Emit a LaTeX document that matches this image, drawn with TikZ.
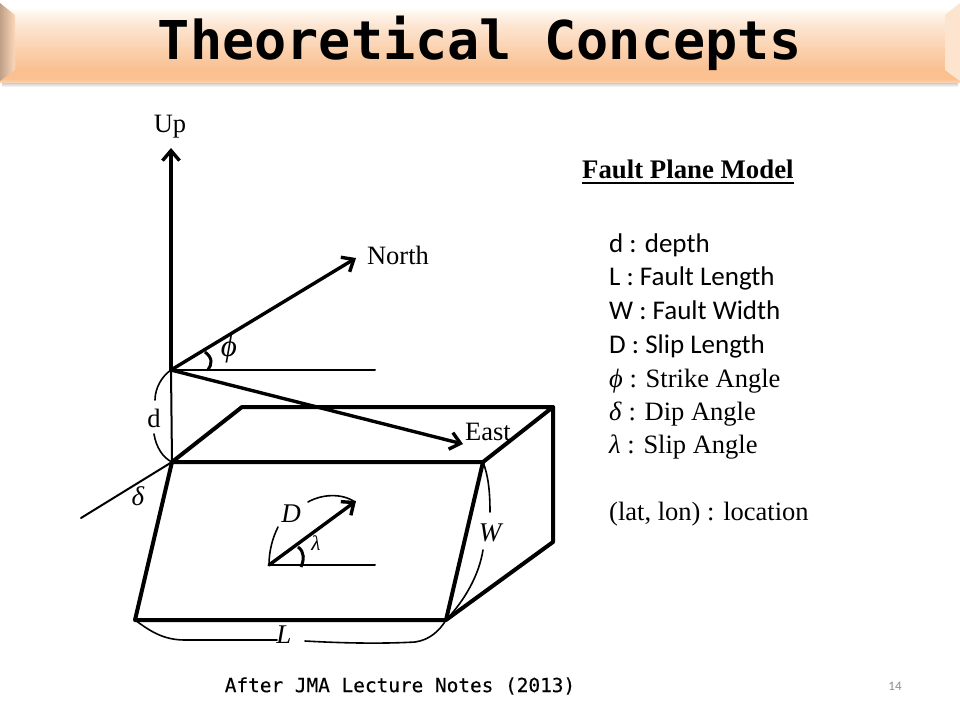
\documentclass[tikz,border=0pt]{standalone}
\usepackage{fontspec}
\setmainfont{Liberation Serif}
\newfontfamily\listfont{Carlito}
\newfontfamily\monofont{DejaVu Sans Mono}
\newfontfamily\footfont[FakeBold=0.35]{DejaVu Sans Mono}
\usetikzlibrary{arrows.meta}
\definecolor{hdrC}{HTML}{FAD2AC}
\definecolor{hdrB}{HTML}{FAC090}
\definecolor{hdrA}{HTML}{FCE4D0}
\definecolor{hdrT}{HTML}{FEF4EA}
\definecolor{bevelL}{HTML}{C0A088}
\definecolor{bevelLb}{HTML}{FBD8B8}
\definecolor{bevelR}{HTML}{FDE4CE}
\definecolor{pagenum}{HTML}{8C8C8C}
\pgfdeclareverticalshading{hdrshade}{100bp}{
 color(0bp)=(hdrC);
 color(25bp)=(hdrC);
 color(27bp)=(hdrB);
 color(33bp)=(hdrB);
 color(60bp)=(hdrA);
 color(68bp)=(hdrT);
 color(72bp)=(white);
 color(100bp)=(white)}
\tikzset{
 thickline/.style={line width=4pt,line join=round,line cap=round},
 axisline/.style={line width=3.4pt,line cap=round,-{Straight Barb[length=10pt,width=17pt,line width=3.4pt]}},
 thinline/.style={line width=2pt,line cap=round},
 curveline/.style={line width=1.6pt,line cap=round},
 anglearc/.style={line width=3pt},
 serif/.style={inner sep=0pt,font=\fontsize{26.5}{30}\selectfont},
 listline/.style={anchor=base west,inner sep=0pt,font=\listfont\fontsize{27}{30}\selectfont},
 serifline/.style={anchor=base west,inner sep=0pt,font=\fontsize{26.5}{30}\selectfont},
 symb/.style={inner sep=0pt,font=\itshape\fontsize{27}{30}\selectfont}
}
\begin{document}
\begin{tikzpicture}[x=1pt,y=-1pt]
\useasboundingbox (0,0) rectangle (960,720);
\fill[white] (0,0) rectangle (960,720);
% header
\shade[top color=black!35,bottom color=white] (2,80) rectangle (958,87);
\shade[shading=hdrshade] (0,3) rectangle (960,82);
\shade[left color=bevelL,right color=bevelLb] (0,3) -- (15,15) -- (15,70) -- (0,81) -- cycle;
\fill[bevelR] (960,3) -- (945,15) -- (945,70) -- (960,81) -- cycle;
\node[inner sep=0pt,font=\monofont\bfseries\fontsize{53.5}{60}\selectfont] (title) at (480,43.5) {Theoretical Concepts};
% points
\coordinate (O) at (171,370);
\coordinate (upTip) at (171,148);
\coordinate (northTip) at (356,258);
\coordinate (eastTip) at (463,444);
\coordinate (hEnd) at (375,370);
\coordinate (A) at (172,462);
\coordinate (B) at (483,462);
\coordinate (C) at (553,407);
\coordinate (Dd) at (242,407);
\coordinate (E) at (135,620);
\coordinate (F) at (446,620);
\coordinate (G) at (553,542);
\coordinate (dipEnd) at (81,518);
\coordinate (S) at (269,565);
\coordinate (slipTip) at (356,501);
\coordinate (sEnd) at (375,565);
% block
\draw[thickline] (E) -- (A) -- (B) -- (F) -- cycle;
\draw[thickline] (A) -- (Dd) -- (C) -- (B);
\draw[thickline] (C) -- (G) -- (F);
% axes
\draw[axisline] (O) -- (upTip);
\draw[axisline] (O) -- (northTip);
\draw[axisline] (O) -- (eastTip);
\draw[thinline] (O) -- (hEnd);
\draw[thinline] (O) -- (A);
\draw[thinline] (A) -- (dipEnd);
\draw[thinline] (S) -- (sEnd);
\draw[axisline] (S) -- (slipTip);
% angle arcs
\draw[anglearc] (205,352) .. controls (213,358) and (212,364) .. (208,370);
\draw[anglearc] (298,547) .. controls (305,552) and (304,560) .. (301,567);
% dimension curves
\draw[curveline] (O) .. controls (162,376) and (155,388) .. (155,400);
\draw[curveline] (154,434) .. controls (156,447) and (163,458) .. (A);
\draw[curveline] (S) .. controls (269,550) and (273,537) .. (278,527);
\draw[curveline] (308,502) .. controls (322,494) and (342,493) .. (355,502);
\draw[curveline] (E) .. controls (150,631) and (163,640) .. (185,640) -- (277,640);
\draw[curveline] (305,641) .. controls (340,643) and (380,644) .. (415,642) .. controls (430,640) and (440,630) .. (F);
\draw[curveline] (B) .. controls (488,475) and (490,490) .. (490,512);
\draw[curveline] (483,550) .. controls (479,575) and (465,600) .. (F);
% labels
\node[serif] (upL) at (170,126.5) {Up};
\node[serif] (northL) at (398,255) {North};
\node[serif] (eastL) at (488,432) {East};
\node[serif] (dL) at (154,418) {d};
\node[symb] (deltaL) at (138,496) {δ};
\node[symb,font=\itshape\fontsize{31}{32}\selectfont] (phiL) at (229,349) {ϕ};
\node[symb] (DL) at (291,514) {D};
\node[inner sep=0pt,font=\itshape\fontsize{21}{22}\selectfont] (lamL) at (316,543) {λ};
\node[symb] (WL) at (490,533) {W};
\node[symb] (LL) at (284,635) {L};
% list
\node[anchor=base west,inner sep=0pt,font=\bfseries\fontsize{26.8}{30}\selectfont] (head) at (582,178) {Fault Plane Model};
\draw[line width=1.8pt,draw=black] (head.base west |- 0,183) -- (head.base east |- 0,183);
\node[listline] (l1) at (609,252) {d : depth};
\node[listline] (l2) at (609,285) {L : Fault Length};
\node[listline] (l3) at (609,319) {W : Fault Width};
\node[listline] (l4) at (609,353) {D : Slip Length};
\node[serifline] (l5) at (609,387) {\textit{ϕ} : Strike Angle};
\node[serifline] (l6) at (609,420) {\textit{δ} : Dip Angle};
\node[serifline] (l7) at (609,453) {\textit{λ} : Slip Angle};
\node[serifline] (l8) at (609,520) {(lat, lon) : location};
% footer
\node[inner sep=0pt,font=\footfont\fontsize{19.4}{22}\selectfont] (foot) at (400,686) {After JMA Lecture Notes (2013)};
\node[inner sep=0pt,text=pagenum,font=\fontsize{13}{15}\selectfont\listfont] (page) at (895,686) {14};
\end{tikzpicture}
\end{document}
